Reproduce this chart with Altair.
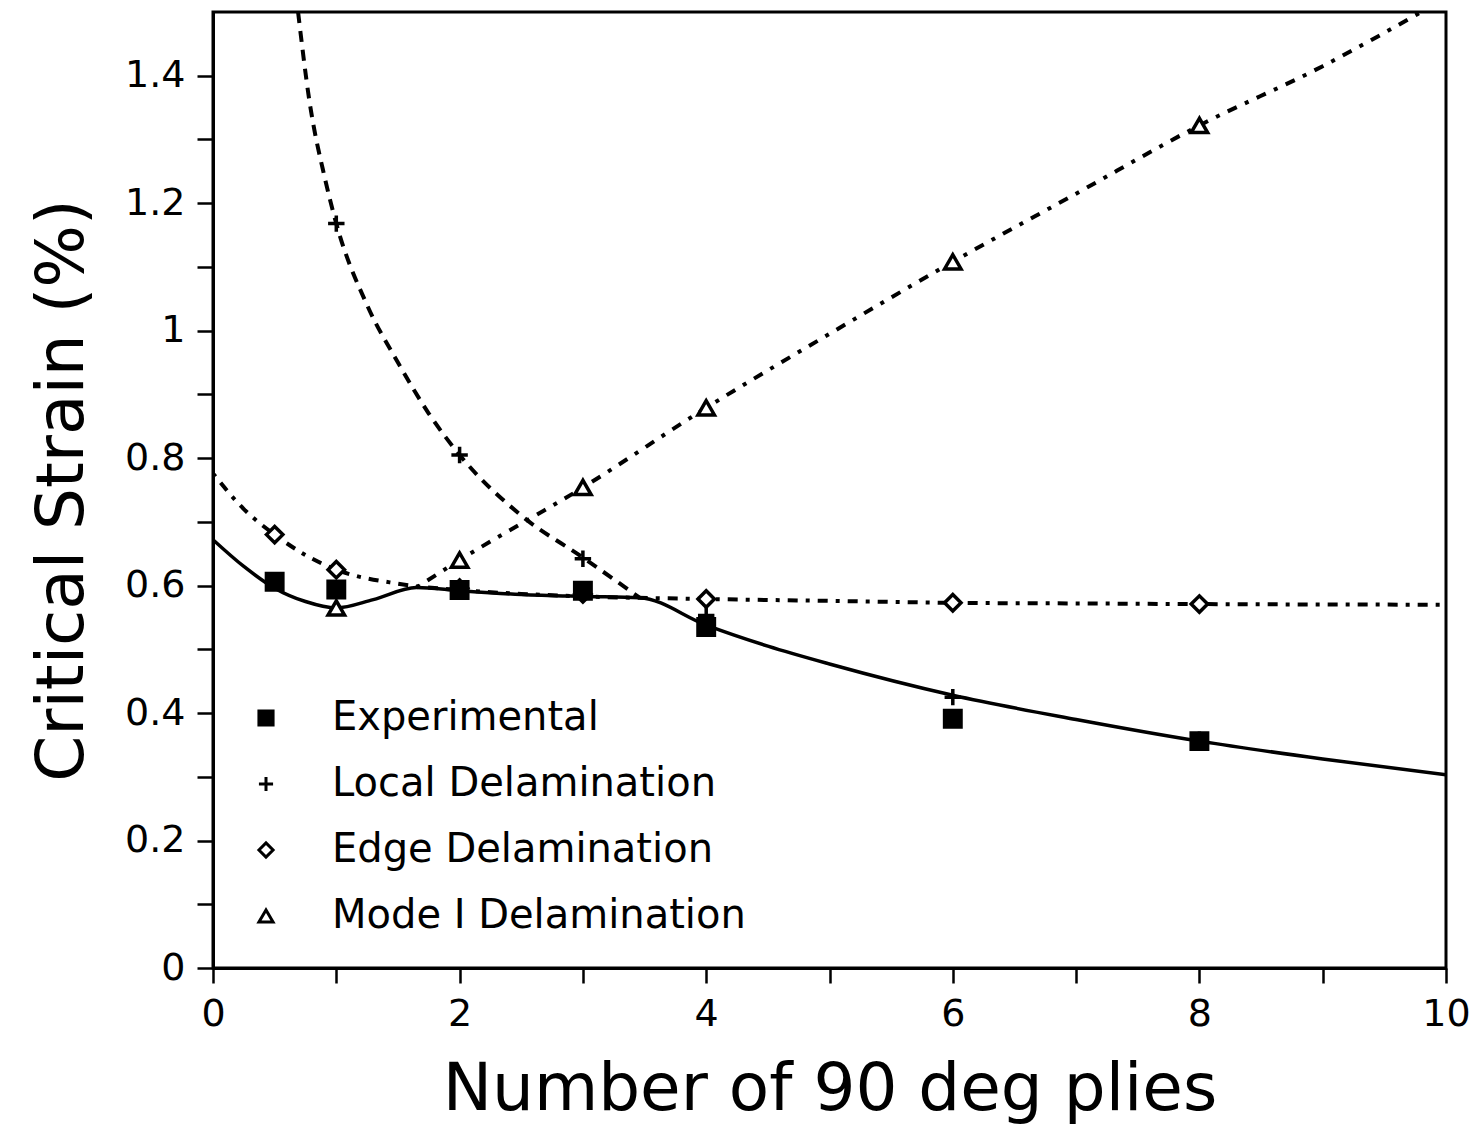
import altair as alt
import pandas as pd

FONT = "DejaVu Sans"

SERIES = ["Experimental", "Local Delamination", "Edge Delamination", "Mode I Delamination"]

# Measured / predicted points
exp_x = [0.5, 1, 2, 3, 4, 6, 8]
exp_y = [0.606, 0.594, 0.593, 0.592, 0.535, 0.391, 0.356]

local_x = [1, 2, 3, 4, 6, 8]
local_y = [1.168, 0.805, 0.642, 0.553, 0.425, 0.358]

edge_x = [0.5, 1, 2, 3, 4, 6, 8]
edge_y = [0.680, 0.625, 0.596, 0.587, 0.579, 0.573, 0.571]

mode1_x = [1, 2, 3, 4, 6, 8]
mode1_y = [0.565, 0.640, 0.754, 0.879, 1.108, 1.322]

# Curves
fit_x = [0, 0.25, 0.5, 0.75, 1.0, 1.3, 1.65, 2.0, 2.5, 3.0, 3.46, 4.0, 4.5, 5, 6, 7, 8, 9, 10]
fit_y = [0.672, 0.630, 0.596, 0.575, 0.565, 0.578, 0.597, 0.592, 0.586, 0.583, 0.581,
         0.538, 0.505, 0.477, 0.428, 0.390, 0.356, 0.328, 0.303]

local_cx = [0.69, 0.78, 0.91, 1.0, 1.25, 1.5, 1.75, 2.0, 2.5, 3.0, 3.46]
local_cy = [1.50, 1.363, 1.237, 1.168, 1.04, 0.95, 0.87, 0.805, 0.71, 0.644, 0.581]

edge_cx = [0, 0.25, 0.5, 0.75, 1, 1.5, 2, 2.5, 3, 4, 5, 6, 7, 8, 10]
edge_cy = [0.776, 0.72, 0.68, 0.648, 0.625, 0.603, 0.593, 0.587, 0.583, 0.579, 0.576,
           0.573, 0.572, 0.571, 0.570]

mode1_cx = [1.65, 2, 3, 4, 5, 6, 7, 8, 9, 9.8]
mode1_cy = [0.597, 0.640, 0.754, 0.879, 0.995, 1.108, 1.215, 1.322, 1.415, 1.500]

# Point table: squares last so they sit on top
pts = pd.concat([
    pd.DataFrame({"x": edge_x, "y": edge_y, "series": "Edge Delamination"}),
    pd.DataFrame({"x": mode1_x, "y": mode1_y, "series": "Mode I Delamination"}),
    pd.DataFrame({"x": local_x, "y": local_y, "series": "Local Delamination"}),
    pd.DataFrame({"x": exp_x, "y": exp_y, "series": "Experimental"}),
], ignore_index=True)

x_scale = alt.Scale(domain=[0, 10], nice=False)
y_scale = alt.Scale(domain=[0, 1.5], nice=False)

x_axis = alt.Axis(
    title="Number of 90 deg plies", values=list(range(0, 11)),
    labelExpr="datum.value % 2 == 0 ? datum.label : ''",
    labelFlush=False,
    grid=False, tickSize=15, tickWidth=2.5, tickColor="black",
    domainColor="black", domainWidth=3,
    labelFont=FONT, labelFontSize=38, labelColor="black", labelPadding=12,
    titleFont=FONT, titleFontSize=66, titleFontWeight="normal", titleColor="black",
    titlePadding=24,
)
y_axis = alt.Axis(
    title="Critical Strain (%)", values=[round(i * 0.1, 1) for i in range(0, 15)],
    labelExpr="round(datum.value * 10) % 2 == 0 ? format(datum.value, '~g') : ''",
    labelFlush=False,
    grid=False, tickSize=16, tickWidth=2.5, tickColor="black",
    domainColor="black", domainWidth=3,
    labelFont=FONT, labelFontSize=38, labelColor="black", labelPadding=12,
    titleFont=FONT, titleFontSize=66, titleFontWeight="normal", titleColor="black",
    titlePadding=28,
)


def curve(xs, ys, dash, width):
    df = pd.DataFrame({"x": xs, "y": ys})
    kw = {"strokeDash": dash} if dash else {}
    return alt.Chart(df).mark_line(
        color="black", strokeWidth=width, interpolate="monotone", clip=True, **kw
    ).encode(
        x=alt.X("x:Q", scale=x_scale, axis=x_axis),
        y=alt.Y("y:Q", scale=y_scale, axis=y_axis),
    )


lines = [
    curve(local_cx, local_cy, [11, 8], 4),
    curve(edge_cx, edge_cy, [4, 8, 10, 8], 4),
    curve(mode1_cx, mode1_cy, [4, 9, 10, 9], 4),
    curve(fit_x, fit_y, None, 3.5),
]

legend = alt.Legend(
    title=None, orient="none", legendX=33, legendY=686, padding=0,
    labelFont=FONT, labelFontSize=40, labelColor="black", labelOffset=46,
    labelLimit=0, symbolSize=200, symbolStrokeWidth=3,
    rowPadding=26,
)

points = alt.Chart(pts).mark_point(
    filled=False, strokeWidth=3.5, size=270, opacity=1, clip=True
).encode(
    x=alt.X("x:Q", scale=x_scale, axis=x_axis),
    y=alt.Y("y:Q", scale=y_scale, axis=y_axis),
    shape=alt.Shape(
        "series:N",
        scale=alt.Scale(domain=SERIES,
                        range=["square", "M-1,0H1M0,-1V1", "diamond", "triangle-up"]),
        legend=legend,
    ),
    fill=alt.Fill(
        "series:N",
        scale=alt.Scale(domain=SERIES, range=["black", "white", "white", "white"]),
        legend=legend,
    ),
    stroke=alt.Stroke(
        "series:N",
        scale=alt.Scale(domain=SERIES, range=["black", "black", "black", "black"]),
        legend=legend,
    ),
)

chart = alt.layer(*lines, points).properties(
    width=1233, height=956,
    autosize="none",
    padding={"left": 213, "top": 12, "right": 31, "bottom": 165},
    background="white",
).configure_view(
    stroke="black", strokeWidth=3
)

chart.save("out.html", embed_options={"renderer": "svg", "actions": False})
